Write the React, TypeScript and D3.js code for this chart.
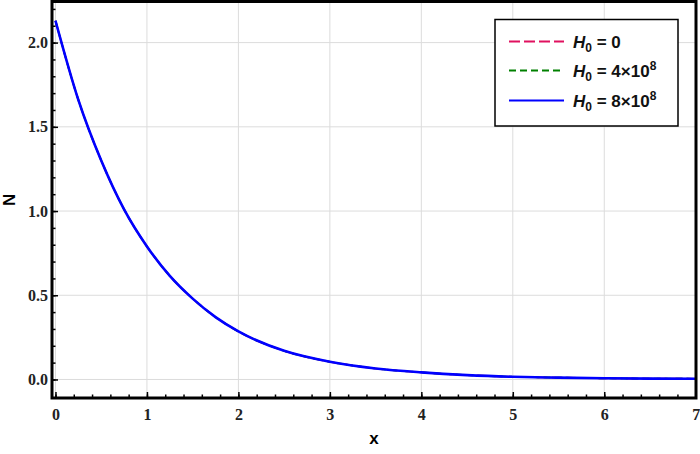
import React, {useEffect, useRef} from "react";
import * as d3 from "d3";

// x positions and N values (all three cases overlap)
const xValues = [0, 0.25, 0.5, 0.75, 1, 1.25, 1.5, 1.75, 2, 2.5, 3, 3.5, 4, 4.5, 5, 5.5, 6, 6.5, 7];
const nH0 = [2.13, 1.66, 1.3, 1.01, 0.79, 0.615, 0.48, 0.37, 0.285, 0.17, 0.105, 0.065, 0.042, 0.026, 0.016, 0.011, 0.007, 0.005, 0.004];
const nH4 = [2.13, 1.66, 1.3, 1.01, 0.79, 0.615, 0.48, 0.37, 0.285, 0.17, 0.105, 0.065, 0.042, 0.026, 0.016, 0.011, 0.007, 0.005, 0.004];
const nH8 = [2.13, 1.66, 1.3, 1.01, 0.79, 0.615, 0.48, 0.37, 0.285, 0.17, 0.105, 0.065, 0.042, 0.026, 0.016, 0.011, 0.007, 0.005, 0.004];

const xTicks = [0, 1, 2, 3, 4, 5, 6, 7];
const yTicks = [0, 0.5, 1, 1.5, 2];
const legendLabels = [
    {value: "0", sup: ""},
    {value: "4×10", sup: "8"},
    {value: "8×10", sup: "8"},
];

const width = 700;
const height = 454;

export default function App() {
    const svgRef = useRef<SVGSVGElement | null>(null);

    useEffect(() => {
        document.body.style.margin = "0";
        if (!svgRef.current) return;
        const svg = d3.select(svgRef.current);
        svg.selectAll("*").remove();

        const left = 52, right = 696, top = 1.5, bottom = 398;

        const x = d3.scaleLinear().domain([-0.038, 7.003]).range([left, right]);
        const y = d3.scaleLinear().domain([-0.11, 2.244]).range([bottom, top]);

        // grid
        const grid = svg.append("g");
        grid.selectAll("line.gx")
            .data(xTicks)
            .enter()
            .append("line")
            .attr("x1", (d) => x(d))
            .attr("x2", (d) => x(d))
            .attr("y1", top)
            .attr("y2", bottom)
            .attr("stroke", "#dcdcdc")
            .attr("stroke-width", 1);
        grid.selectAll("line.gy")
            .data(yTicks)
            .enter()
            .append("line")
            .attr("x1", left)
            .attr("x2", right)
            .attr("y1", (d) => y(d))
            .attr("y2", (d) => y(d))
            .attr("stroke", "#dcdcdc")
            .attr("stroke-width", 1);

        // curves
        const series = [
            {values: nH0, color: "#e0115f", dash: "11,4", w: 1.8},
            {values: nH4, color: "#008000", dash: "7,4", w: 1.8},
            {values: nH8, color: "#0000ff", dash: null, w: 2.6},
        ];
        const line = d3
            .line<number>()
            .x((_, i) => x(xValues[i]))
            .y((d) => y(d))
            .curve(d3.curveMonotoneX);
        series.forEach((s) => {
            svg.append("path")
                .datum(s.values)
                .attr("d", line)
                .attr("fill", "none")
                .attr("stroke", s.color)
                .attr("stroke-width", s.w)
                .attr("stroke-dasharray", s.dash);
        });

        // axes
        const tickFont = (g: any) =>
            g.selectAll("text")
                .attr("font-family", "'Liberation Serif', 'Times New Roman', serif")
                .attr("font-weight", "bold")
                .attr("font-size", 16)
                .attr("fill", "#222");

        const xMinor = d3.range(0, 7.001, 0.2).map((v) => +v.toFixed(2));
        const yMinor = d3.range(0, 2.2001, 0.1).map((v) => +v.toFixed(2));

        svg.append("g")
            .attr("transform", `translate(0,${bottom})`)
            .call(d3.axisBottom(x).tickValues(xMinor).tickFormat(() => "").tickSize(-3.5))
            .call((g) => g.select(".domain").remove())
            .call((g) => g.selectAll("line").attr("stroke-width", 1.5));
        svg.append("g")
            .attr("transform", `translate(0,${bottom})`)
            .call(d3.axisBottom(x).tickValues(xTicks).tickFormat(d3.format("d")).tickSize(-6).tickPadding(11))
            .call((g) => g.select(".domain").remove())
            .call((g) => g.selectAll("line").attr("stroke-width", 1.5))
            .call(tickFont);

        svg.append("g")
            .attr("transform", `translate(${left},0)`)
            .call(d3.axisLeft(y).tickValues(yMinor).tickFormat(() => "").tickSize(-3.5))
            .call((g) => g.select(".domain").remove())
            .call((g) => g.selectAll("line").attr("stroke-width", 1.5));
        svg.append("g")
            .attr("transform", `translate(${left},0)`)
            .call(d3.axisLeft(y).tickValues(yTicks).tickFormat(d3.format(".1f")).tickSize(-6).tickPadding(4))
            .call((g) => g.select(".domain").remove())
            .call((g) => g.selectAll("line").attr("stroke-width", 1.5))
            .call(tickFont);

        // frame
        svg.append("rect")
            .attr("x", left)
            .attr("y", top)
            .attr("width", right - left)
            .attr("height", bottom - top)
            .attr("fill", "none")
            .attr("stroke", "#000")
            .attr("stroke-width", 3);

        // axis titles
        svg.append("text")
            .attr("x", (left + right) / 2)
            .attr("y", 444)
            .attr("text-anchor", "middle")
            .attr("font-family", "'Liberation Sans', Arial, sans-serif")
            .attr("font-weight", "bold")
            .attr("font-size", 17)
            .text("x");
        svg.append("text")
            .attr("transform", `translate(15,${(top + bottom) / 2}) rotate(-90)`)
            .attr("text-anchor", "middle")
            .attr("font-family", "'Liberation Sans', Arial, sans-serif")
            .attr("font-weight", "bold")
            .attr("font-size", 17)
            .text("N");

        // legend
        const legend = svg.append("g");
        legend.append("rect")
            .attr("x", 495)
            .attr("y", 19.5)
            .attr("width", 183)
            .attr("height", 106.5)
            .attr("fill", "#fff")
            .attr("stroke", "#000")
            .attr("stroke-width", 1.5);
        const rowY = [41.5, 70.5, 100.5];
        series.forEach((s, i) => {
            legend.append("line")
                .attr("x1", 509)
                .attr("x2", 564)
                .attr("y1", rowY[i])
                .attr("y2", rowY[i])
                .attr("stroke", s.color)
                .attr("stroke-width", 2.2)
                .attr("stroke-dasharray", s.dash);
            const t = legend.append("text")
                .attr("x", 573)
                .attr("y", rowY[i] + 6)
                .attr("font-family", "'Liberation Sans', Arial, sans-serif")
                .attr("font-weight", "bold")
                .attr("font-size", 17)
                .attr("fill", "#111");
            t.append("tspan").attr("font-style", "italic").text("H");
            t.append("tspan").attr("font-size", 12).attr("dy", 4).text("0");
            t.append("tspan").attr("dy", -4).text(` = ${legendLabels[i].value}`);
            if (legendLabels[i].sup) {
                t.append("tspan").attr("font-size", 12).attr("dy", -7).text(legendLabels[i].sup);
            }
        });
    }, []);

    return <svg ref={svgRef} width={width} height={height} style={{display: "block"}} />;
}
